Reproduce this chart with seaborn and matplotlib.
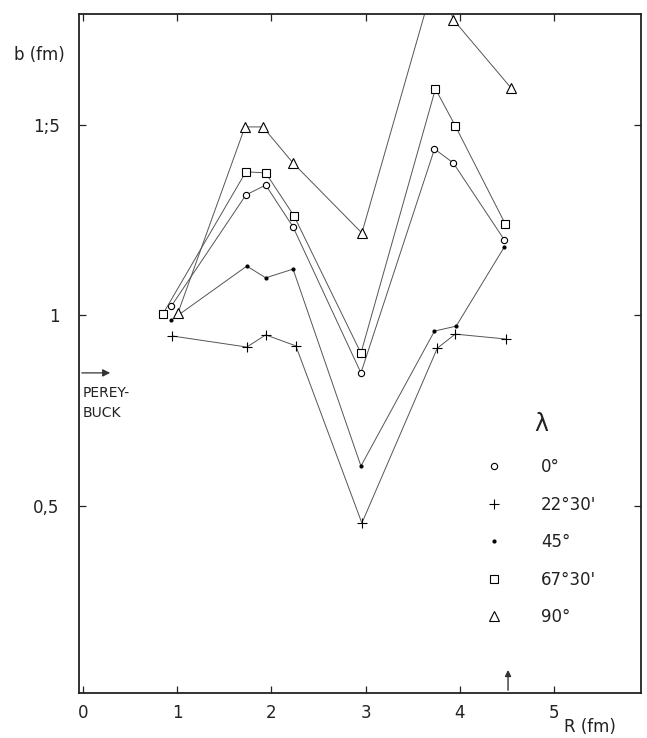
import matplotlib
matplotlib.use("Agg")
import matplotlib.pyplot as plt
from matplotlib.lines import Line2D
import seaborn as sns
import pandas as pd

# ---- data ----
R_0 = [0.94, 1.73, 1.94, 2.23, 2.95, 3.73, 3.93, 4.47]
b_0 = [1.025, 1.317, 1.343, 1.233, 0.849, 1.438, 1.401, 1.199]

R_22 = [0.95, 1.74, 1.94, 2.26, 2.96, 3.76, 3.95, 4.49]
b_22 = [0.946, 0.917, 0.949, 0.920, 0.454, 0.914, 0.951, 0.938]

R_45 = [0.94, 1.74, 1.94, 2.23, 2.95, 3.73, 3.96, 4.47]
b_45 = [0.988, 1.130, 1.099, 1.122, 0.604, 0.959, 0.972, 1.180]

R_67 = [0.85, 1.73, 1.94, 2.24, 2.95, 3.74, 3.95, 4.48]
b_67 = [1.004, 1.378, 1.375, 1.262, 0.901, 1.596, 1.499, 1.241]

R_90 = [1.01, 1.72, 1.91, 2.23, 2.96, 3.76, 3.93, 4.54]
b_90 = [1.007, 1.496, 1.496, 1.401, 1.217, 1.910, 1.778, 1.599]

labels = ["0°", "22°30'", "45°", "67°30'", "90°"]
x_ticks = [0, 1, 2, 3, 4, 5]
x_ticklabels = ["0", "1", "2", "3", "4", "5"]
y_ticks = [0.5, 1.0, 1.5]
y_ticklabels = ["0,5", "1", "1;5"]
perey_buck = 0.849
arrow_R = 4.51

series = [
    (R_0, b_0, dict(marker="o", markersize=4.5, markerfacecolor="white")),
    (R_22, b_22, dict(marker="+", markersize=7.5)),
    (R_45, b_45, dict(marker="o", markersize=2.2, markerfacecolor="black")),
    (R_67, b_67, dict(marker="s", markersize=6.2, markerfacecolor="white")),
    (R_90, b_90, dict(marker="^", markersize=6.5, markerfacecolor="white")),
]

sns.set_style("ticks")
plt.rcParams["font.family"] = ["DejaVu Sans"]
plt.rcParams["text.color"] = "#222222"

fig = plt.figure(figsize=(6.47, 7.38), dpi=100)
ax = fig.add_axes([79 / 647, 45 / 738, 562 / 647, 679 / 738])

for R, b, st in series:
    df = pd.DataFrame({"R": R, "b": b})
    sns.lineplot(data=df, x="R", y="b", ax=ax, sort=False, color="#555555",
                 linewidth=0.7, markeredgecolor="black", markeredgewidth=0.8,
                 clip_on=True, **st)

ax.set_xlim(-0.04, 5.92)
ax.set_ylim(0.007, 1.793)
ax.set_xticks(x_ticks)
ax.set_xticklabels(x_ticklabels)
ax.set_yticks(y_ticks)
ax.set_yticklabels(y_ticklabels)
ax.set_xlabel("")
ax.set_ylabel("")
ax.tick_params(direction="in", length=5, width=0.9, top=True, right=True,
               labelsize=12, colors="#222222")
ax.tick_params(axis="x", pad=8)
ax.tick_params(axis="y", pad=14)
for sp in ax.spines.values():
    sp.set_visible(True)
    sp.set_linewidth(1.3)
    sp.set_color("#222222")

# Perey-Buck arrow on the y axis
ax.annotate("", xy=(0.32, perey_buck), xytext=(-0.04, perey_buck),
            arrowprops=dict(arrowstyle="-|>", color="#333333", lw=0.9,
                            mutation_scale=11))
ax.text(0.0, perey_buck - 0.035, "PEREY-\nBUCK", fontsize=10, va="top",
        ha="left", linespacing=1.5, color="#222222")

# arrow on the R axis
ax.annotate("", xy=(arrow_R, 0.075), xytext=(arrow_R, 0.007),
            arrowprops=dict(arrowstyle="-|>", color="#333333", lw=1.0,
                            mutation_scale=9))

fig.text(39 / 647, 1 - 55 / 738, "b (fm)", fontsize=12, ha="center",
         va="center", color="#222222")
fig.text(590 / 647, 1 - 727 / 738, "R (fm)", fontsize=12, ha="center",
         va="center", color="#222222")

handles = []
for (R, b, st), lab in zip(series, labels):
    handles.append(Line2D([], [], linestyle="none", color="black",
                          markeredgecolor="black", markeredgewidth=0.8,
                          label=lab, **st))
leg = ax.legend(handles=handles, title="λ", frameon=False, fontsize=12,
                title_fontsize=17, handlelength=1.0, handletextpad=2.3,
                labelspacing=1.17, loc="upper left",
                bbox_to_anchor=((471 - 79) / 562, (693 - 397) / 679))
leg._legend_box.align = "center"
leg._legend_box.sep = 16
for t in leg.get_texts():
    t.set_color("#222222")

fig.savefig("out.png", dpi=100)
